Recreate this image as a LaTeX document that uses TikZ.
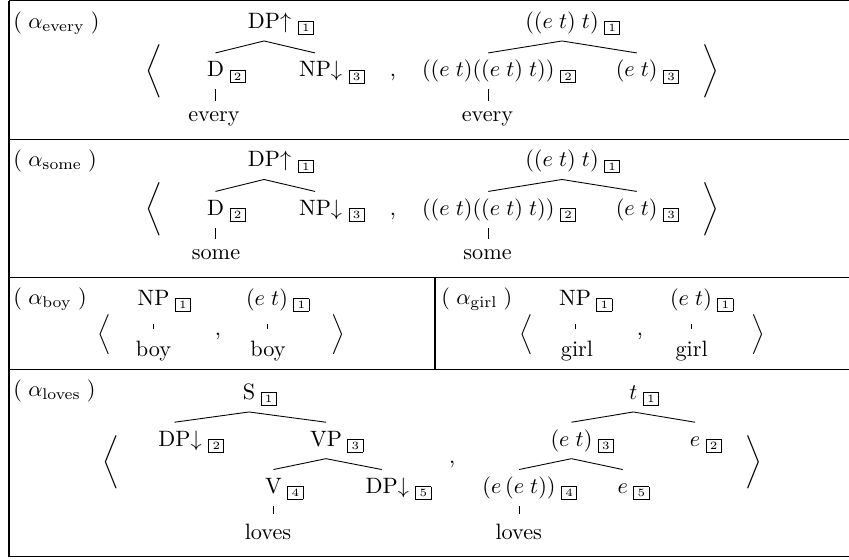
\documentclass[tikz,border=0pt]{standalone}
\usepackage{amsmath}
\usepackage{amssymb}
\usetikzlibrary{positioning,calc}

\setlength{\fboxsep}{1pt}
\setlength{\fboxrule}{0.4pt}
\newcommand{\nbox}[1]{\fbox{\makebox[4.4pt]{\tiny #1}}}
% category with box index (the index does not count for the width)
\newcommand{\cb}[2]{#1\rlap{\hspace{2.5pt}$_{\nbox{#2}}$}}
% category with arrow and box index
\newcommand{\ca}[3]{#1\rlap{$#2\kern0.2pt_{\nbox{#3}}$}}

\begin{document}
\begin{tikzpicture}[x=0.45pt,y=-0.45pt,
    cat/.style={anchor=base,inner xsep=0pt,inner ysep=3.5pt,text height=7pt,text depth=2pt},
    word/.style={anchor=base,inner xsep=0pt,inner ysep=2pt,text height=7pt,text depth=2pt},
    rowlab/.style={anchor=base west,inner sep=0pt},
    brak/.style={inner sep=0pt},
    branch/.style={thin},
    stem/.style={thin},
    gridline/.style={line width=0.6pt}]
        \useasboundingbox (0,0) rectangle (849,559);

        % table lines
        \draw[gridline] (9,0.8) -- (849,0.8);
        \draw[gridline] (9,139.3) -- (849,139.3);
        \draw[gridline] (9,277.5) -- (849,277.5);
        \draw[gridline] (9,369.3) -- (849,369.3);
        \draw[gridline] (9,556.8) -- (849,556.8);
        \draw[gridline] (9,0.8) -- (9,556.8);
        \draw[gridline] (435,277.5) -- (435,369.3);

        % ================== every ==================
        \node[rowlab] (lab1) at (13,28) {$(\;\alpha_{\mathrm{every}}\;)$};
        \node[brak] (lb1) at (153.5,71) {$\bigg\langle$};
        \node[cat] (dp1) at (264,28.3) {\ca{DP}{\uparrow}{1}};
        \node[cat] (d1) at (215.5,76.7) {\cb{D}{2}};
        \node[cat] (np1) at (315,76.7) {\ca{NP}{\downarrow}{3}};
        \node[word] (ev1) at (214,121) {every};
        \node[cat] (cm1) at (393,76.7) {,};
        \node[cat] (ty1) at (562,28.3) {\cb{$((e\;t)\;t)$}{1}};
        \node[cat] (ty1l) at (488.3,76.7) {\cb{$((e\;t)((e\;t)\;t))$}{2}};
        \node[cat] (ty1r) at (636.7,76.7) {\cb{$(e\;t)$}{3}};
        \node[word] (ev1b) at (487.5,121) {every};
        \node[brak] (rb1) at (711,71) {$\bigg\rangle$};

        \draw[branch] (dp1.south) -- (d1.north);
        \draw[branch] (dp1.south) -- (np1.north);
        \draw[stem] (d1.south) -- (d1.south |- ev1.north);
        \draw[branch] (ty1.south) -- (ty1l.north);
        \draw[branch] (ty1.south) -- (ty1r.north);
        \draw[stem] (ty1l.south) -- (ty1l.south |- ev1b.north);

        % ================== some ==================
        \node[rowlab] (lab2) at (13,166.5) {$(\;\alpha_{\mathrm{some}}\;)$};
        \node[brak] (lb2) at (153.5,209.5) {$\bigg\langle$};
        \node[cat] (dp2) at (264,166.8) {\ca{DP}{\uparrow}{1}};
        \node[cat] (d2) at (215.5,215.2) {\cb{D}{2}};
        \node[cat] (np2) at (315,215.2) {\ca{NP}{\downarrow}{3}};
        \node[word] (sm2) at (216,259.5) {some};
        \node[cat] (cm2) at (393,215.2) {,};
        \node[cat] (ty2) at (562,166.8) {\cb{$((e\;t)\;t)$}{1}};
        \node[cat] (ty2l) at (488.3,215.2) {\cb{$((e\;t)((e\;t)\;t))$}{2}};
        \node[cat] (ty2r) at (636.7,215.2) {\cb{$(e\;t)$}{3}};
        \node[word] (sm2b) at (487.5,259.5) {some};
        \node[brak] (rb2) at (711,209.5) {$\bigg\rangle$};

        \draw[branch] (dp2.south) -- (d2.north);
        \draw[branch] (dp2.south) -- (np2.north);
        \draw[stem] (d2.south) -- (d2.south |- sm2.north);
        \draw[branch] (ty2.south) -- (ty2l.north);
        \draw[branch] (ty2.south) -- (ty2r.north);
        \draw[stem] (ty2l.south) -- (ty2l.south |- sm2b.north);

        % ================== boy ==================
        \node[rowlab] (lab3) at (13,304) {$(\;\alpha_{\mathrm{boy}}\;)$};
        \node[brak] (lb3) at (104,334.5) {$\Big\langle$};
        \node[cat] (np3) at (153.5,305.3) {\cb{NP}{1}};
        \node[word] (by3) at (153.5,356) {boy};
        \node[cat] (cm3) at (218,335) {,};
        \node[cat] (et3) at (267,305.3) {\cb{$(e\;t)$}{1}};
        \node[word] (by3b) at (268,356) {boy};
        \node[brak] (rb3) at (338,334.5) {$\Big\rangle$};

        \draw[stem,shorten <=2.8pt,shorten >=3pt] (np3.south) -- (np3.south |- by3.north);
        \draw[stem,shorten <=2.8pt,shorten >=3pt] (et3.south) -- (et3.south |- by3b.north);

        % ================== girl ==================
        \node[rowlab] (lab3g) at (441,304) {$(\;\alpha_{\mathrm{girl}}\;)$};
        \node[brak] (lb3g) at (526,334.5) {$\Big\langle$};
        \node[cat] (np3g) at (575,305.3) {\cb{NP}{1}};
        \node[word] (gl3) at (577,356) {girl};
        \node[cat] (cm3g) at (640,335) {,};
        \node[cat] (et3g) at (691,305.3) {\cb{$(e\;t)$}{1}};
        \node[word] (gl3b) at (691.7,356) {girl};
        \node[brak] (rb3g) at (758,334.5) {$\Big\rangle$};

        \draw[stem,shorten <=2.8pt,shorten >=3pt] (np3g.south) -- (np3g.south |- gl3.north);
        \draw[stem,shorten <=2.8pt,shorten >=3pt] (et3g.south) -- (et3g.south |- gl3b.north);

        % ================== loves ==================
        \node[rowlab] (lab4) at (13,396) {$(\;\alpha_{\mathrm{loves}}\;)$};
        \node[brak] (lb4) at (111,462.5) {$\bigg\langle$};
        \node[cat] (s4) at (249,399.3) {\cb{S}{1}};
        \node[cat] (dp4a) at (174.5,446) {\ca{DP}{\downarrow}{2}};
        \node[cat] (vp4) at (326,446) {\cb{VP}{3}};
        \node[cat] (v4) at (273.5,493.3) {\cb{V}{4}};
        \node[cat] (dp4b) at (381.7,493.3) {\ca{DP}{\downarrow}{5}};
        \node[word] (lv4) at (268,539.3) {loves};
        \node[cat] (cm4) at (452.3,463) {,};
        \node[cat] (t4) at (633.3,399.3) {\cb{$t$}{1}};
        \node[cat] (et4) at (571.5,446) {\cb{$(e\;t)$}{3}};
        \node[cat] (e4a) at (695,446) {\cb{$e$}{2}};
        \node[cat] (eet4) at (519,493.3) {\cb{$(e\,(e\;t))$}{4}};
        \node[cat] (e4b) at (622.7,493.3) {\cb{$e$}{5}};
        \node[word] (lv4b) at (518.7,539.3) {loves};
        \node[brak] (rb4) at (754,462.5) {$\bigg\rangle$};

        \draw[branch] (s4.south) -- (dp4a.north);
        \draw[branch] (s4.south) -- (vp4.north);
        \draw[branch] (vp4.south) -- (v4.north);
        \draw[branch] (vp4.south) -- (dp4b.north);
        \draw[stem,shorten >=2pt] (v4.south) -- (v4.south |- lv4.north);
        \draw[branch] (t4.south) -- (et4.north);
        \draw[branch] (t4.south) -- (e4a.north);
        \draw[branch] (et4.south) -- (eet4.north);
        \draw[branch] (et4.south) -- (e4b.north);
        \draw[stem,shorten >=2pt] (eet4.south) -- (eet4.south |- lv4b.north);
\end{tikzpicture}
\end{document}
